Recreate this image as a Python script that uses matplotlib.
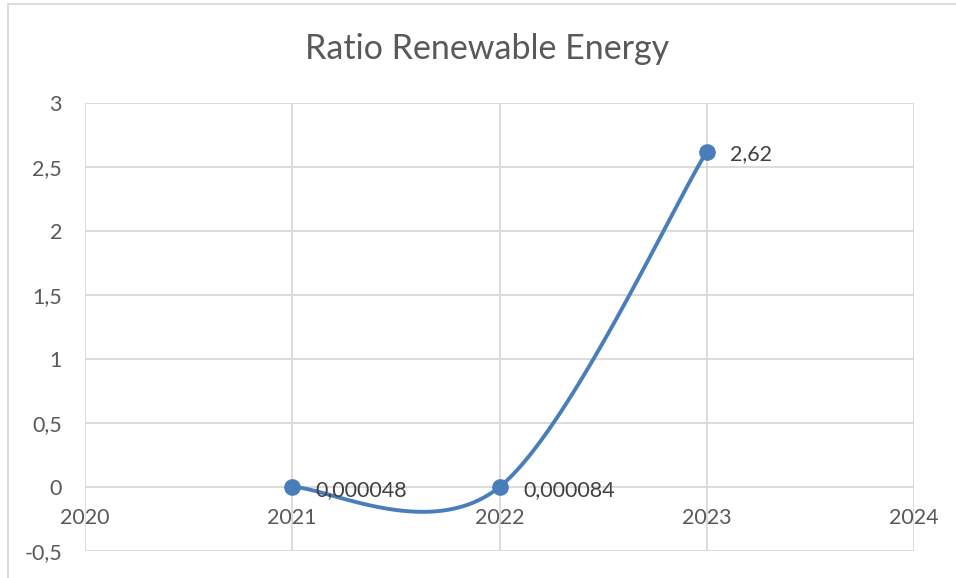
import numpy as np
import matplotlib
matplotlib.use("Agg")
import matplotlib.pyplot as plt
from matplotlib.patches import Rectangle
from matplotlib.ticker import FuncFormatter, MultipleLocator

years = [2021, 2022, 2023]
values = [0.000048, 0.000084, 2.62]
labels = ["0,000048", "0,000084", "2,62"]
title = "Ratio Renewable Energy"

plt.rcParams['font.family'] = ['Lato', 'DejaVu Sans']
TXT = '#595959'
GRID = '#D9D9D9'
BLUE = '#4A7EBB'

def excel_smooth(xs, ys, n=60):
    P = np.column_stack([xs, ys]).astype(float)
    out = []
    for i in range(len(P) - 1):
        p0 = P[i - 1] if i > 0 else P[i]
        p1 = P[i]
        p2 = P[i + 1]
        p3 = P[i + 2] if i + 2 < len(P) else P[i + 1]
        c1 = p1 + (p2 - p0) / 6.0
        c2 = p2 - (p3 - p1) / 6.0
        t = np.linspace(0, 1, n)[:, None]
        seg = ((1 - t) ** 3) * p1 + 3 * ((1 - t) ** 2) * t * c1 + 3 * (1 - t) * t ** 2 * c2 + t ** 3 * p2
        out.append(seg if i == 0 else seg[1:])
    return np.vstack(out)

fig = plt.figure(figsize=(9.56, 5.78), dpi=100)
fig.patches.append(Rectangle((7.5 / 956, -0.1), 1.2, 0.1 + 1 - 4.5 / 578,
                             transform=fig.transFigure, fill=False,
                             edgecolor=GRID, linewidth=1.3))
ax = fig.add_axes([85 / 956, 27 / 578, 829 / 956, 448 / 578])

curve = excel_smooth(years, values)
ax.plot(curve[:, 0], curve[:, 1], color=BLUE, linewidth=2.8, solid_capstyle='round', zorder=3)
ax.plot(years, values, 'o', color=BLUE, markersize=11, zorder=4)
for x, y, s in zip(years, values, labels):
    ax.annotate(s, (x, y), xytext=(17, -2), textcoords='offset points',
                ha='left', va='center', fontsize=15.5, color='#404040', zorder=5)

ax.set_xlim(2020, 2024)
ax.set_ylim(-0.5, 3)
ax.xaxis.set_major_locator(MultipleLocator(1))
ax.yaxis.set_major_locator(MultipleLocator(0.5))
ax.yaxis.set_major_formatter(FuncFormatter(lambda v, p: ('%g' % v).replace('.', ',')))
ax.xaxis.set_major_formatter(FuncFormatter(lambda v, p: '%d' % v))
ax.grid(True, color=GRID, linewidth=1.3)
ax.set_axisbelow(True)
for sp in ax.spines.values():
    sp.set_visible(False)
ax.spines['bottom'].set_position(('data', 0))
ax.tick_params(axis='both', length=0, labelsize=15.5, labelcolor=TXT)
ax.tick_params(axis='x', pad=15)
ax.tick_params(axis='y', pad=16.5)

fig.text(487 / 956, 1 - 49 / 578, title, ha='center', va='center', fontsize=24.5, color=TXT)

fig.savefig('out.png', dpi=100)
